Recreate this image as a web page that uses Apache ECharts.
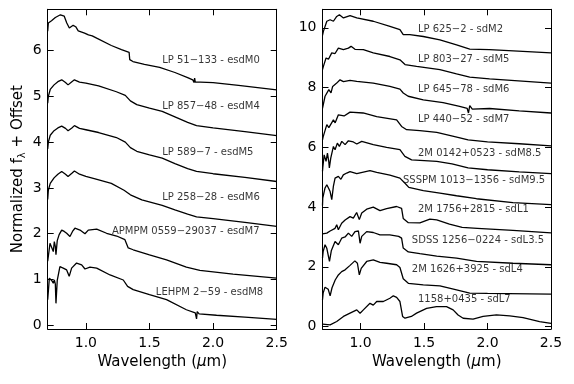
<!DOCTYPE html>
<html>
<head>
<meta charset="utf-8">
<script src="https://cdn.jsdelivr.net/npm/echarts@6/dist/echarts.min.js"></script>
<style>html,body{margin:0;padding:0;background:#fff}#main{width:574px;height:384px}</style>
</head>
<body>
<div id="main"></div>
<script>
// spectra: [wavelength (um), normalized flux + offset]
// left panel, extreme subdwarfs
var esdM0 = [[0.70,6.42],[0.705,6.6],[0.73,6.65],[0.76,6.72],[0.8,6.78],[0.83,6.75],[0.85,6.6],[0.87,6.49],[0.9,6.55],[0.92,6.52],[0.94,6.43],[0.99,6.38],[1.02,6.34],[1.05,6.32],[1.085,6.27],[1.1,6.23],[1.2,6.11],[1.28,6.02],[1.34,5.96],[1.345,5.8],[1.37,5.76],[1.46,5.7],[1.58,5.63],[1.7,5.52],[1.8,5.41],[1.84,5.36],[1.85,5.3],[1.855,5.4],[1.86,5.31],[1.87,5.35],[1.9,5.31],[2.0,5.3],[2.2,5.24],[2.5,5.14]];
var esdM4 = [[0.70,4.85],[0.705,5.0],[0.72,5.15],[0.75,5.25],[0.78,5.32],[0.81,5.36],[0.84,5.3],[0.86,5.25],[0.89,5.32],[0.91,5.36],[0.95,5.31],[1.0,5.29],[1.1,5.23],[1.24,5.1],[1.31,5.02],[1.35,4.9],[1.4,4.82],[1.5,4.74],[1.6,4.67],[1.7,4.55],[1.8,4.43],[1.87,4.36],[2.0,4.31],[2.25,4.23],[2.5,4.14]];
var esdM5 = [[0.70,3.85],[0.705,4.0],[0.72,4.15],[0.75,4.25],[0.78,4.31],[0.81,4.35],[0.84,4.3],[0.86,4.25],[0.89,4.31],[0.91,4.36],[0.95,4.3],[1.0,4.27],[1.1,4.21],[1.24,4.1],[1.31,4.0],[1.35,3.88],[1.4,3.8],[1.5,3.72],[1.6,3.65],[1.7,3.53],[1.8,3.42],[1.87,3.36],[2.0,3.31],[2.25,3.23],[2.5,3.14]];
var esdM6 = [[0.70,2.75],[0.705,2.95],[0.72,3.1],[0.75,3.22],[0.78,3.3],[0.81,3.36],[0.84,3.3],[0.86,3.25],[0.89,3.32],[0.91,3.37],[0.95,3.3],[1.0,3.25],[1.08,3.19],[1.2,3.1],[1.3,2.95],[1.35,2.85],[1.44,2.74],[1.6,2.62],[1.7,2.52],[1.8,2.43],[1.87,2.37],[2.0,2.33],[2.25,2.25],[2.5,2.16]];
var esdM7 = [[0.70,1.4],[0.718,1.79],[0.744,1.61],[0.752,1.83],[0.76,1.72],[0.765,1.54],[0.775,1.85],[0.79,1.98],[0.81,2.08],[0.83,2.05],[0.849,2.01],[0.875,1.94],[0.895,2.05],[0.914,2.12],[0.954,2.08],[0.993,2.0],[1.019,2.08],[1.085,2.1],[1.163,2.01],[1.242,1.95],[1.307,1.87],[1.333,1.69],[1.372,1.65],[1.5,1.54],[1.634,1.43],[1.79,1.27],[1.896,1.2],[2.157,1.12],[2.5,1.03]];
var esdM8 = [[0.70,0.56],[0.713,1.03],[0.731,0.98],[0.744,0.92],[0.752,0.99],[0.76,0.9],[0.765,0.48],[0.775,0.98],[0.796,1.28],[0.822,1.25],[0.849,1.21],[0.869,1.07],[0.888,1.25],[0.927,1.36],[0.967,1.32],[0.993,1.23],[1.032,1.27],[1.085,1.25],[1.19,1.1],[1.294,0.99],[1.328,0.85],[1.372,0.78],[1.5,0.67],[1.634,0.56],[1.79,0.34],[1.86,0.27],[1.87,0.14],[1.875,0.3],[1.89,0.25],[2.027,0.22],[2.25,0.18],[2.5,0.13]];

// right panel, subdwarfs
var sdM2 = [[0.70,9.75],[0.707,9.88],[0.734,10.22],[0.76,10.27],[0.786,10.22],[0.812,10.38],[0.833,10.44],[0.865,10.33],[0.917,10.41],[0.97,10.33],[1.1,10.22],[1.231,10.05],[1.31,9.94],[1.336,9.77],[1.388,9.77],[1.494,9.71],[1.625,9.6],[1.756,9.43],[1.86,9.29],[2.016,9.27],[2.278,9.21],[2.5,9.16]];
var sdM5 = [[0.70,8.6],[0.707,8.71],[0.728,8.99],[0.747,8.95],[0.773,9.16],[0.799,9.14],[0.825,9.32],[0.865,9.27],[0.904,9.32],[0.925,9.38],[0.956,9.28],[1.022,9.27],[1.1,9.16],[1.231,9.04],[1.31,8.93],[1.35,8.77],[1.441,8.71],[1.625,8.6],[1.756,8.46],[1.86,8.35],[2.016,8.29],[2.5,8.15]];
var sdM6 = [[0.70,7.3],[0.707,7.45],[0.72,7.71],[0.735,7.66],[0.75,7.93],[0.767,7.82],[0.78,8.04],[0.812,8.15],[0.838,8.26],[0.865,8.2],[0.917,8.24],[0.97,8.21],[1.1,8.15],[1.231,8.04],[1.31,7.95],[1.336,7.82],[1.375,7.71],[1.494,7.59],[1.65,7.5],[1.78,7.37],[1.84,7.3],[1.85,7.15],[1.86,7.4],[1.88,7.28],[2.016,7.3],[2.25,7.22],[2.5,7.15]];
var sdM7 = [[0.70,6.25],[0.705,6.35],[0.734,6.76],[0.75,6.66],[0.786,6.92],[0.8,6.82],[0.825,7.09],[0.87,7.05],[0.917,7.18],[1.02,7.15],[1.127,7.03],[1.284,6.92],[1.323,6.7],[1.363,6.59],[1.467,6.56],[1.6,6.5],[1.75,6.35],[1.847,6.25],[2.0,6.18],[2.25,6.12],[2.5,6.05]];
var sdM85 = [[0.70,5.2],[0.702,5.31],[0.713,5.75],[0.728,5.53],[0.739,5.81],[0.75,5.5],[0.754,5.31],[0.765,5.64],[0.786,6.03],[0.799,5.92],[0.817,6.14],[0.833,6.03],[0.852,6.2],[0.878,6.09],[0.904,6.22],[0.943,6.18],[0.97,6.11],[1.009,6.2],[1.1,6.09],[1.205,6.0],[1.31,5.92],[1.349,5.7],[1.402,5.58],[1.6,5.53],[1.72,5.45],[1.847,5.31],[2.0,5.25],[2.25,5.18],[2.5,5.12]];
var sdM95 = [[0.70,4.05],[0.702,4.3],[0.72,4.64],[0.734,4.75],[0.747,4.64],[0.76,4.52],[0.773,4.25],[0.786,4.7],[0.799,4.97],[0.825,5.03],[0.845,4.93],[0.864,5.08],[0.891,5.14],[0.917,5.19],[0.97,5.12],[1.074,5.22],[1.127,5.16],[1.231,5.07],[1.31,4.97],[1.35,4.8],[1.38,4.66],[1.494,4.55],[1.625,4.47],[1.756,4.38],[1.913,4.28],[2.2,4.15],[2.5,4.08]];
var sdL1 = [[0.70,3.1],[0.734,3.13],[0.76,3.2],[0.799,3.29],[0.812,3.41],[0.825,3.24],[0.851,3.46],[0.878,3.57],[0.917,3.68],[0.943,3.63],[0.969,3.82],[0.99,3.58],[1.009,3.8],[1.048,3.93],[1.1,4.0],[1.153,3.88],[1.205,3.95],[1.284,4.02],[1.323,3.96],[1.336,3.62],[1.376,3.48],[1.467,3.47],[1.546,3.6],[1.6,3.57],[1.7,3.43],[1.8,3.32],[1.92,3.29],[2.2,3.22],[2.5,3.14]];
var sdL35 = [[0.70,2.3],[0.705,2.51],[0.72,2.74],[0.734,2.62],[0.755,2.18],[0.77,2.55],[0.799,2.85],[0.825,2.74],[0.851,2.96],[0.878,3.0],[0.904,3.13],[0.93,3.02],[0.956,3.18],[0.983,3.2],[0.996,2.79],[1.009,3.02],[1.048,3.18],[1.1,3.15],[1.153,3.07],[1.23,3.07],[1.3,3.02],[1.323,2.96],[1.336,2.63],[1.376,2.5],[1.467,2.44],[1.6,2.36],[1.756,2.29],[1.913,2.18],[2.2,2.12],[2.5,2.07]];
var sdL4 = [[0.70,0.9],[0.705,1.12],[0.72,1.32],[0.745,1.25],[0.76,1.03],[0.775,1.3],[0.8,1.56],[0.825,1.73],[0.851,1.84],[0.878,1.9],[0.917,2.05],[0.955,2.2],[0.975,2.12],[0.99,1.73],[1.005,1.95],[1.048,2.18],[1.1,2.23],[1.153,2.15],[1.205,2.12],[1.284,2.07],[1.31,1.98],[1.336,1.6],[1.376,1.45],[1.494,1.4],[1.625,1.36],[1.756,1.23],[1.86,1.12],[2.0,1.11],[2.5,1.09]];
var sdL7 = [[0.70,0.08],[0.76,0.06],[0.812,0.17],[0.865,0.34],[0.917,0.45],[0.97,0.56],[0.985,0.6],[0.996,0.45],[1.022,0.56],[1.074,0.78],[1.1,0.72],[1.127,0.84],[1.179,0.84],[1.231,0.95],[1.258,1.03],[1.284,0.98],[1.31,0.84],[1.331,0.34],[1.35,0.28],[1.4,0.34],[1.441,0.45],[1.52,0.61],[1.598,0.67],[1.677,0.67],[1.729,0.56],[1.768,0.39],[1.808,0.28],[1.886,0.25],[1.965,0.34],[2.07,0.39],[2.175,0.36],[2.28,0.3],[2.41,0.17],[2.5,0.11]];

var leftSpectra = [esdM0, esdM4, esdM5, esdM6, esdM7, esdM8];
var rightSpectra = [sdM2, sdM5, sdM6, sdM7, sdM85, sdM95, sdL1, sdL35, sdL4, sdL7];

// object names, anchored at [wavelength, flux]
var leftTags = [
  [1.60, 5.78, 'LP 51\u2212133 - esdM0'],
  [1.60, 4.79, 'LP 857\u221248 - esdM4'],
  [1.60, 3.78, 'LP 589\u22127 - esdM5'],
  [1.60, 2.80, 'LP 258\u221228 - esdM6'],
  [1.205, 2.04, 'APMPM 0559\u221229037 - esdM7'],
  [1.55, 0.71, 'LEHPM 2\u221259 - esdM8']
];
var rightTags = [
  [1.452, 9.96, 'LP 625\u22122 - sdM2'],
  [1.452, 8.95, 'LP 803\u221227 - sdM5'],
  [1.452, 7.95, 'LP 645\u221278 - sdM6'],
  [1.452, 6.94, 'LP 440\u221252 - sdM7'],
  [1.452, 5.81, '2M 0142+0523 - sdM8.5'],
  [1.334, 4.88, 'SSSPM 1013\u22121356 - sdM9.5'],
  [1.452, 3.91, '2M 1756+2815 - sdL1'],
  [1.404, 2.88, 'SDSS 1256\u22120224 - sdL3.5'],
  [1.404, 1.90, '2M 1626+3925 - sdL4'],
  [1.452, 0.92, '1158+0435 - sdL7']
];

var xTicks = [1.0, 1.5, 2.0, 2.5];
var leftYTicks = [0, 1, 2, 3, 4, 5, 6];
var rightYTicks = [0, 2, 4, 6, 8, 10];

var font = 'DejaVu Sans';
var xName = '{n|Wavelength (}{i|\u03bc}{n|m)}';
var xNameStyle = {color:'#000', fontFamily:font, rich:{n:{fontSize:15, fontFamily:font, color:'#000'}, i:{fontSize:15, fontFamily:font, fontStyle:'italic', color:'#000'}}};

function xAx(grid, top) {
  return {
    type:'value', gridIndex:grid, min:0.7, max:2.5, position: top ? 'top' : 'bottom',
    axisLine:{show:true, onZero:false, lineStyle:{color:'#000', width:1}},
    axisTick:{show:true, inside:true, length:6, customValues:xTicks, lineStyle:{color:'#000', width:1}},
    axisLabel:{show:!top, customValues:xTicks, formatter:function(v){return v.toFixed(1);}, color:'#000', fontSize:14, fontFamily:font, margin:7},
    splitLine:{show:false},
    name: top ? '' : xName, nameLocation:'middle', nameGap:25, nameTextStyle:xNameStyle
  };
}
function yAx(grid, right, ticks, mn, mx) {
  return {
    type:'value', gridIndex:grid, min:mn, max:mx, position: right ? 'right' : 'left',
    axisLine:{show:true, onZero:false, lineStyle:{color:'#000', width:1}},
    axisTick:{show:true, inside:true, length:6, customValues:ticks, lineStyle:{color:'#000', width:1}},
    axisLabel:{show:!right, customValues:ticks, color:'#000', fontSize:14, fontFamily:font, margin:6},
    splitLine:{show:false}
  };
}

var yLeft = yAx(0, false, leftYTicks, -0.08, 6.9);
yLeft.name = '{a|Normalized f}{b|\u03bb}{a| + Offset}';
yLeft.nameLocation = 'middle';
yLeft.nameRotate = 90;
yLeft.nameGap = 20;
yLeft.nameTextStyle = {rich:{
  a:{fontSize:15, fontFamily:font, color:'#000', lineHeight:20, verticalAlign:'middle'},
  b:{fontSize:10, fontFamily:font, color:'#000', lineHeight:20, verticalAlign:'bottom'}
}};

var series = [];
leftSpectra.forEach(function(d){
  series.push({type:'line', xAxisIndex:0, yAxisIndex:0, data:d, showSymbol:false, silent:true,
    lineStyle:{color:'#000', width:1.3}});
});
rightSpectra.forEach(function(d){
  series.push({type:'line', xAxisIndex:2, yAxisIndex:2, data:d, showSymbol:false, silent:true,
    lineStyle:{color:'#000', width:1.3}});
});
function tagSeries(tags, xi, yi) {
  return {type:'scatter', xAxisIndex:xi, yAxisIndex:yi, symbolSize:0, silent:true,
    itemStyle:{color:'rgba(0,0,0,0)'},
    data: tags.map(function(t){ return {value:[t[0], t[1]], name:t[2]}; }),
    label:{show:true, position:'right', distance:0, formatter:'{b}', color:'#000', fontSize:10, fontFamily:font}};
}
series.push(tagSeries(leftTags, 0, 0));
series.push(tagSeries(rightTags, 2, 2));

var myChart = echarts.init(document.getElementById('main'), null, {renderer:'canvas'});
myChart.setOption({
  animation:false,
  backgroundColor:'#fff',
  textStyle:{fontFamily:font},
  grid:[
    {left:47.7, right:297.3, top:9.3, bottom:55},
    {left:322.5, right:23, top:9.3, bottom:55}
  ],
  xAxis:[xAx(0,false), xAx(0,true), xAx(1,false), xAx(1,true)],
  yAxis:[yLeft, yAx(0,true,leftYTicks,-0.08,6.9), yAx(1,false,rightYTicks,-0.08,10.62), yAx(1,true,rightYTicks,-0.08,10.62)],
  series:series
});
</script>
</body>
</html>
